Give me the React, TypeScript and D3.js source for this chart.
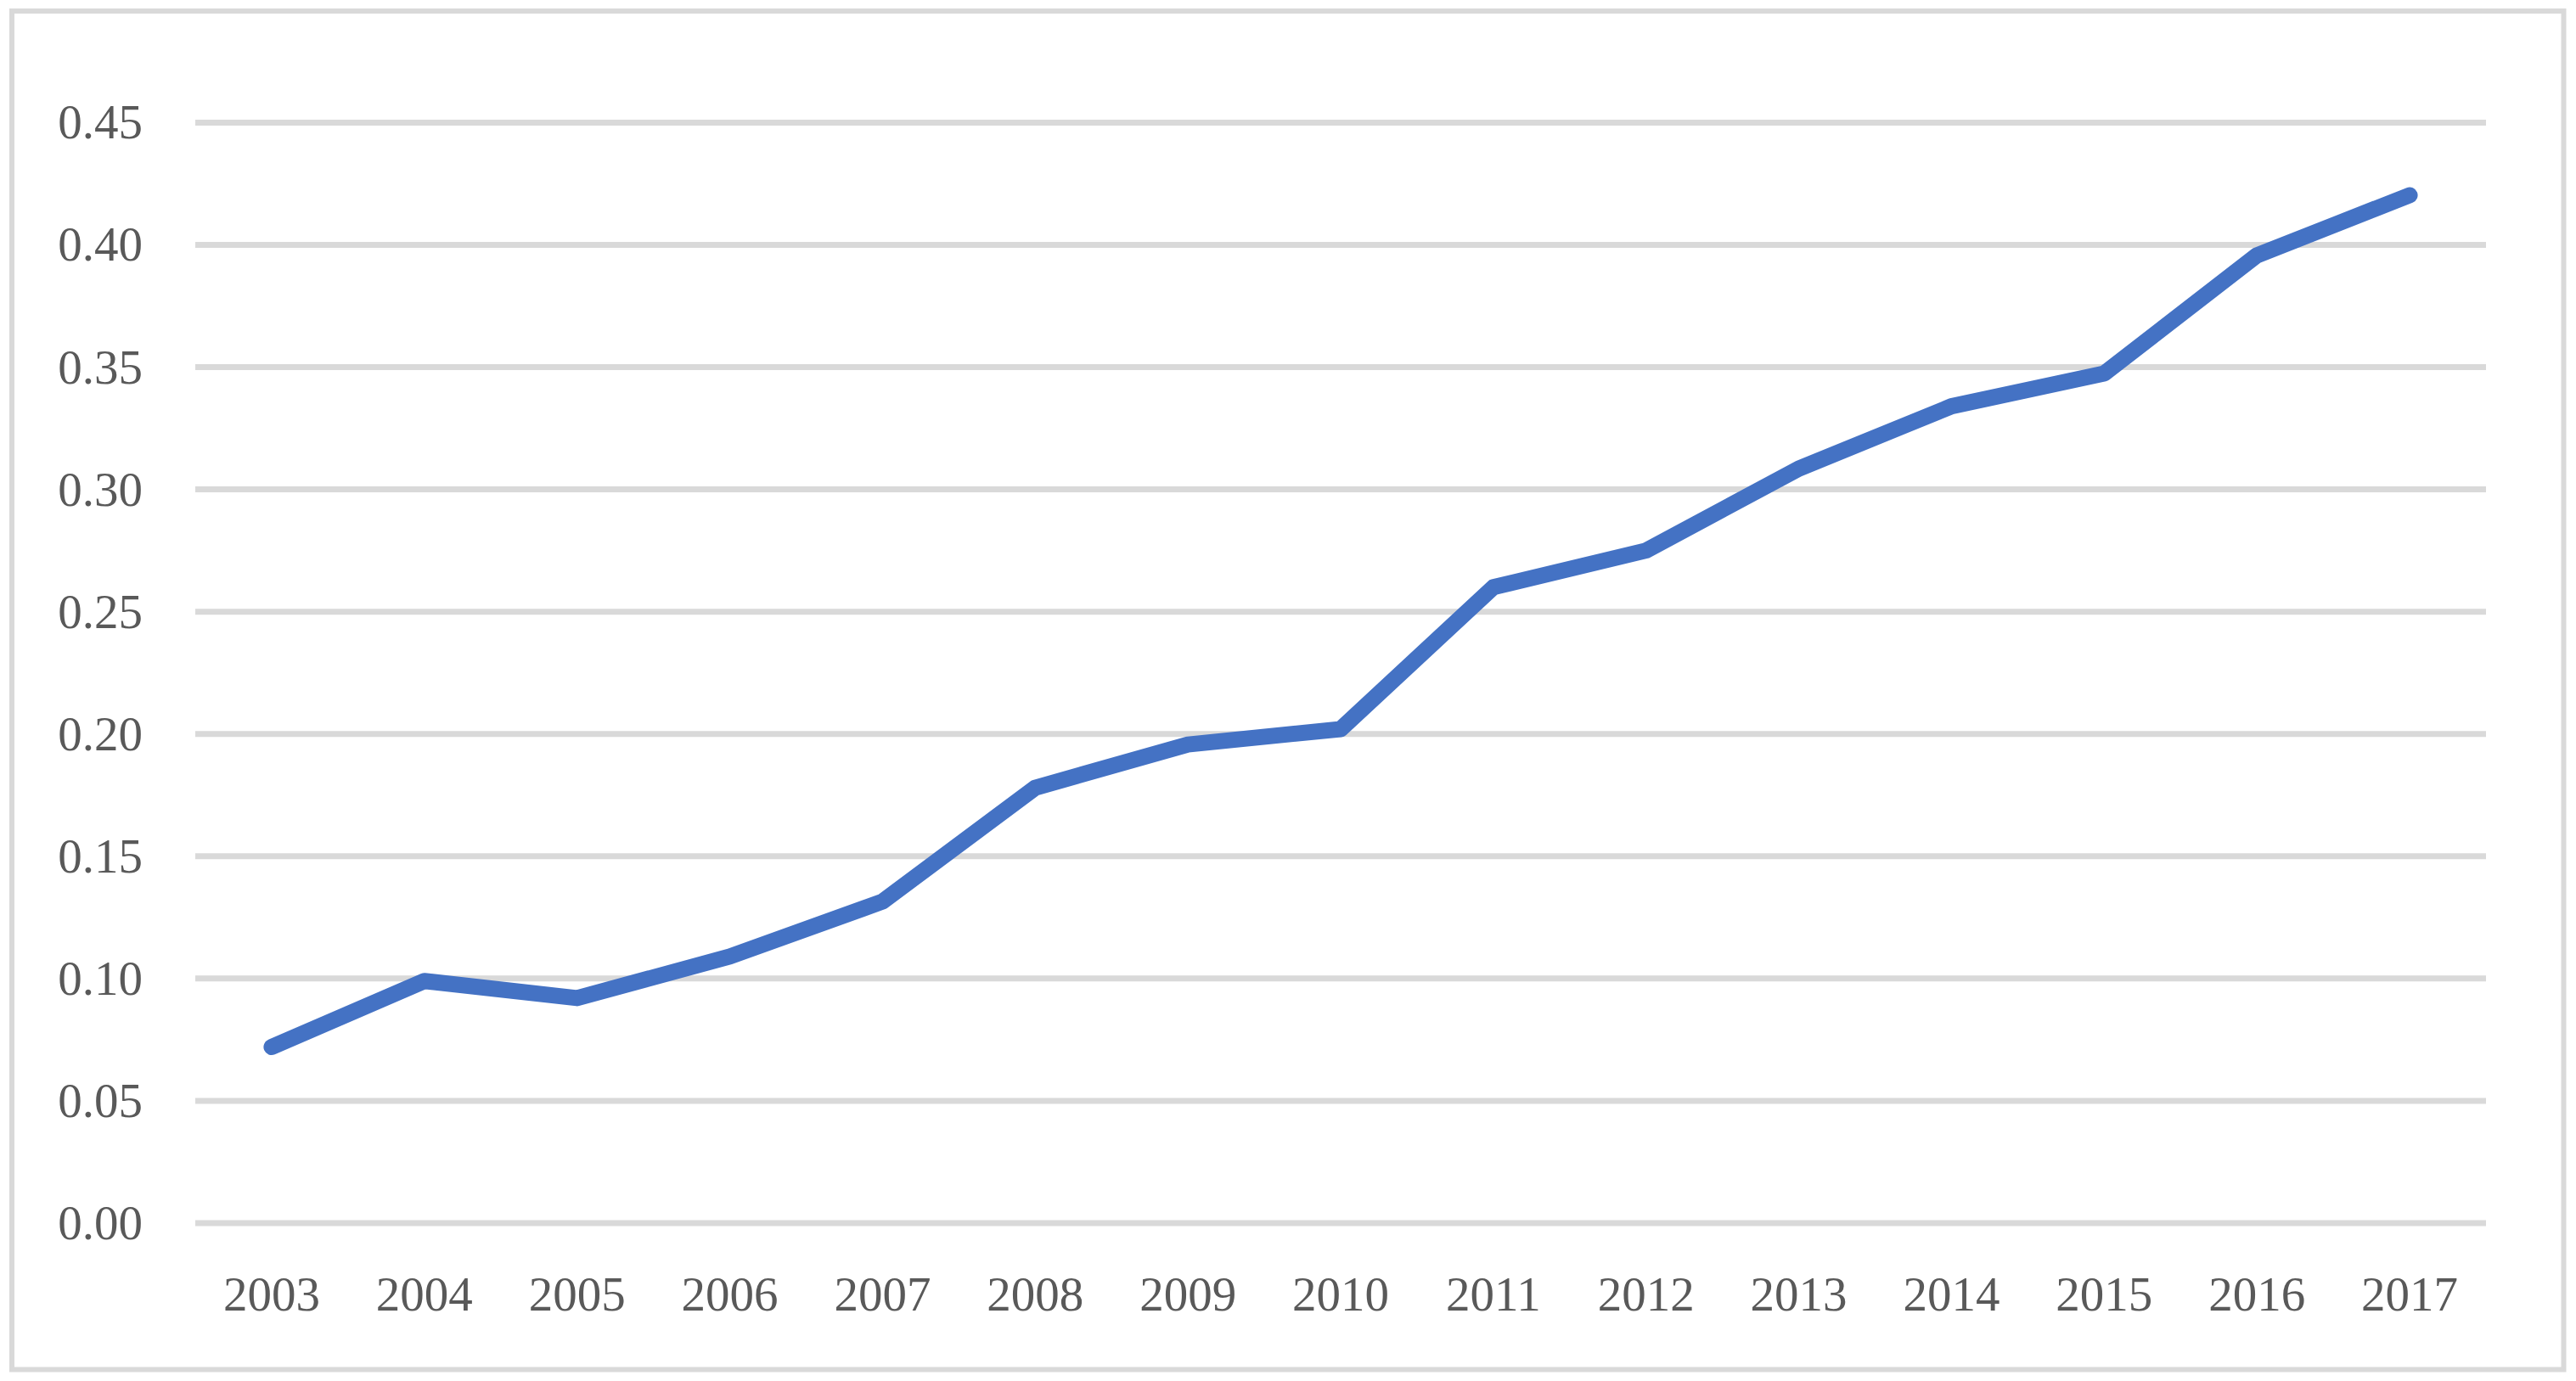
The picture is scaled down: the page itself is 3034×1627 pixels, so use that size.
import React from "react";
import * as d3 from "d3";

const years = ["2003","2004","2005","2006","2007","2008","2009","2010","2011","2012","2013","2014","2015","2016","2017"];
const values = [0.072,0.099,0.092,0.109,0.1315,0.178,0.1957,0.202,0.260,0.275,0.3085,0.334,0.3474,0.3957,0.4203];
const yTicks = [0,0.05,0.1,0.15,0.2,0.25,0.3,0.35,0.4,0.45];

const W = 3034, H = 1627;

export default function App() {
  const x = d3.scaleBand<string>().domain(years).range([230, 2928]).padding(0);
  const y = d3.scaleLinear().domain([0, 0.45]).range([1441, 144.4]);
  const cx = (d: string) => (x(d) as number) + x.bandwidth() / 2;
  const line = d3.line<number>()
    .x((_, i) => cx(years[i]))
    .y((v) => y(v));
  const fmt = d3.format(".2f");
  const font = "'Liberation Serif', 'Times New Roman', serif";
  return (
    <svg width={W} height={H} style={{ position: "absolute", left: 0, top: 0, background: "#fff" }}>
      <rect x={0} y={0} width={W} height={H} fill="#fff" />
      <rect x={14} y={13} width={3005.5} height={1600.5} fill="none" stroke="#d9d9d9" strokeWidth={6} />
      {yTicks.map((t) => (
        <g key={t}>
          <line x1={230} x2={2928} y1={y(t)} y2={y(t)} stroke="#d9d9d9" strokeWidth={7} />
          <text x={168} y={y(t) + 19} textAnchor="end" fontFamily={font} fontSize={57} fill="#595959">
            {fmt(t)}
          </text>
        </g>
      ))}
      {years.map((yr) => (
        <text key={yr} x={cx(yr)} y={1544} textAnchor="middle" fontFamily={font} fontSize={57} fill="#595959">
          {yr}
        </text>
      ))}
      <path d={line(values) || ""} fill="none" stroke="#4472C4" strokeWidth={19} strokeLinecap="round" strokeLinejoin="round" />
    </svg>
  );
}
